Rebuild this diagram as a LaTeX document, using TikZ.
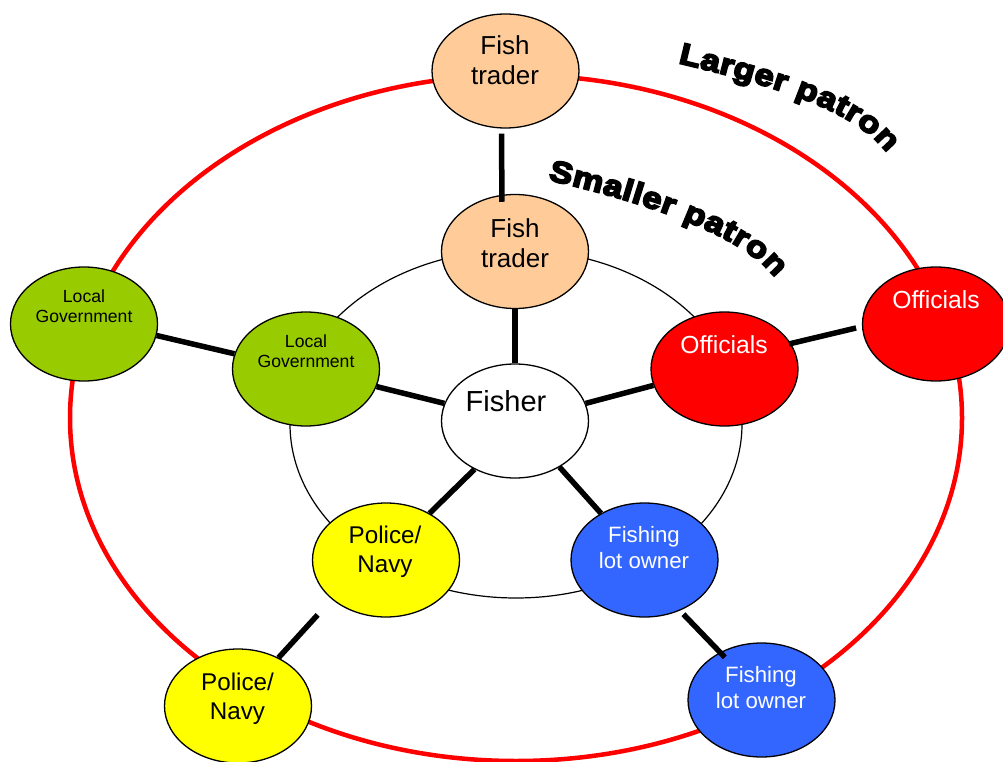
\documentclass[tikz,border=0pt]{standalone}
\usepackage{fontspec}
\setmainfont{Liberation Sans}
\newfontfamily\heavyfont{Liberation Sans}[BoldFeatures={FakeBold=6, FakeStretch=1.15}]
\usetikzlibrary{shapes.geometric,decorations.text}

\definecolor{peach}{HTML}{FFCC99}
\definecolor{leaf}{HTML}{99CC00}
\definecolor{alarm}{HTML}{FF0000}
\definecolor{sun}{HTML}{FFFF00}
\definecolor{sea}{HTML}{3366FF}

% two centred lines, aligned on the baseline of the first one
\newcommand{\stackedtext}[2]{\begin{tabular}[t]{@{}c@{}}#1\\#2\end{tabular}}

\begin{document}
\begin{tikzpicture}[x=1pt,y=-1pt,
  party/.style={ellipse, draw=black, line width=1.3pt,
    minimum width=147pt, minimum height=114pt, inner sep=0pt},
  lbl/.style={inner sep=0pt, anchor=base},
  tie/.style={line width=5.5pt, black},
  bigtxt/.style={font=\fontsize{26}{30}\selectfont},
  smalltxt/.style={font=\fontsize{17.6}{20}\selectfont},
  offtxt/.style={font=\fontsize{24.7}{29}\selectfont, text=white},
  poltxt/.style={font=\fontsize{24.2}{29}\selectfont},
  lottxt/.style={font=\fontsize{22.2}{26}\selectfont, text=white},
  patron/.style={decorate, decoration={text along path,
    text align=fit to path}}]

\useasboundingbox (0,0) rectangle (1003,762);
\fill[white] (0,0) rectangle (1003,762);

% outer (larger patron) and inner (smaller patron) rings
\draw[alarm, line width=4.5pt] (516,418) ellipse [x radius=446, y radius=343];
\draw[black, line width=1.2pt] (516,424) ellipse [x radius=226, y radius=174];

% actors
\node[party, fill=peach] (ftO) at (505.5,71) {};
\node[party, fill=peach] (ftI) at (515,251.5) {};
\node[party, fill=white] (fis) at (515,421) {};
\node[party, fill=leaf]  (lgI) at (306,369) {};
\node[party, fill=leaf]  (lgO) at (84,324) {};
\node[party, fill=alarm] (ofI) at (724.5,369) {};
\node[party, fill=alarm] (ofO) at (936,324) {};
\node[party, fill=sun]   (poI) at (386,560) {};
\node[party, fill=sun]   (poO) at (238,706) {};
\node[party, fill=sea]   (flI) at (644.5,560) {};
\node[party, fill=sea]   (flO) at (761.5,700) {};

% labels
\node[lbl, bigtxt] (ftOt) at (505,55) {\stackedtext{Fish}{trader}};
\node[lbl, bigtxt] (ftIt) at (515,237) {\stackedtext{Fish}{trader}};
\node[lbl, font=\fontsize{29}{34}\selectfont] (fist) at (506,411) {Fisher};
\node[lbl, smalltxt] (lgIt) at (306,347) {\stackedtext{Local}{Government}};
\node[lbl, smalltxt] (lgOt) at (84,302) {\stackedtext{Local}{Government}};
\node[lbl, offtxt] (ofIt) at (724,353) {Officials};
\node[lbl, offtxt] (ofOt) at (936,308) {Officials};
\node[lbl, poltxt] (poIt) at (385,543) {\stackedtext{Police/}{Navy}};
\node[lbl, poltxt] (poOt) at (237.5,690) {\stackedtext{Police/}{Navy}};
\node[lbl, lottxt] (flIt) at (644,542) {\stackedtext{Fishing}{lot owner}};
\node[lbl, lottxt] (flOt) at (761,682) {\stackedtext{Fishing}{lot owner}};

% ties between the fisher and the patrons
\draw[tie, shorten <=5pt, shorten >=-7pt] (ftO.266) -- (ftI.103);
\draw[tie] (ftI.270) -- (fis.90);
\draw[tie] (fis.166) -- (lgI.346);
\draw[tie] (lgI.168) -- (lgO.351);
\draw[tie] (fis.14) -- (ofI.193);
\draw[tie, shorten <=-2pt, shorten >=6pt] (ofI.21) -- (ofO.182);
\draw[tie] (fis.230) -- (poI.47);
\draw[tie, shorten <=21pt] (poI.216) -- (poO.50);
\draw[tie] (fis.314) -- (flI.133);
\draw[tie, shorten <=5pt, shorten >=-7pt] (flI.305) -- (flO.131);

% ring captions
\path[patron, decoration={text={|\heavyfont\bfseries\fontsize{30}{30}\selectfont|Larger patron}}]
  (678,63) .. controls (775,86) and (855,110) .. (887,153);
\path[patron, decoration={text={|\heavyfont\bfseries\fontsize{30}{30}\selectfont|Smaller patron}}]
  (548,180) .. controls (645,202) and (745,236) .. (775,278);

\end{tikzpicture}
\end{document}
